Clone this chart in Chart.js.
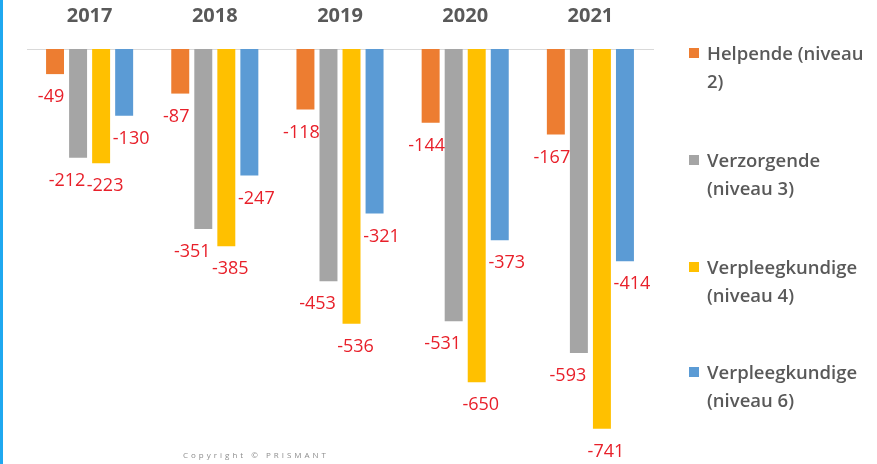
<!DOCTYPE html>
<html>
<head>
<meta charset="utf-8">
<script src="https://cdn.jsdelivr.net/npm/chart.js@4"></script>
<style>
  html, body { margin: 0; padding: 0; background: #fff; }
  #wrap { position: relative; width: 877px; height: 464px; overflow: hidden; border-left: 3px solid #1fa8f0; box-sizing: border-box; }
  #chart { position: absolute; left: -3px; top: 0; }
  .legend { position: absolute; left: 686px; font-family: 'Open Sans', sans-serif; font-weight: 600; font-size: 18.5px; line-height: 28px; color: #595959; }
  .legend .item { position: absolute; left: 0; width: 200px; }
  .legend .box { position: absolute; left: 0; top: 9px; width: 10px; height: 10px; }
  .legend .txt { margin-left: 18px; }
  #copy { position: absolute; left: 180px; top: 449px; font-family: 'Open Sans', sans-serif; font-size: 8px; letter-spacing: 3px; color: #8c8c8c; }
</style>
</head>
<body>
<div id="wrap">
  <canvas id="chart" width="877" height="464"></canvas>
  <div class="legend" id="legend"></div>
  <div id="copy">Copyright © PRISMANT</div>
</div>
<script>
const years = ['2017', '2018', '2019', '2020', '2021'];
const helpende = [-49, -87, -118, -144, -167];
const verzorgende = [-212, -351, -453, -531, -593];
const verpleeg4 = [-223, -385, -536, -650, -741];
const verpleeg6 = [-130, -247, -321, -373, -414];
const seriesNames = [['Helpende (niveau', '2)'], ['Verzorgende', '(niveau 3)'], ['Verpleegkundige', '(niveau 4)'], ['Verpleegkundige', '(niveau 6)']];
const colors = ['#ED7D31', '#A5A5A5', '#FFC000', '#5B9BD5'];

// label nudges like the hand-placed Excel labels
const labelShift = [-4, -11, 4, 7];

const valueLabels = {
    id: 'valueLabels',
    afterDatasetsDraw(chart) {
        const ctx = chart.ctx;
        ctx.save();
        ctx.font = '18px "Open Sans", sans-serif';
        ctx.fillStyle = '#E8202A';
        ctx.textAlign = 'center';
        ctx.textBaseline = 'middle';
        chart.data.datasets.forEach((ds, i) => {
            chart.getDatasetMeta(i).data.forEach((bar, j) => {
                ctx.fillText(ds.data[j], bar.x + labelShift[i], bar.y + 23);
            });
        });
        ctx.restore();
    }
};

const chart = new Chart(document.getElementById('chart'), {
    type: 'bar',
    data: {
        labels: years,
        datasets: [helpende, verzorgende, verpleeg4, verpleeg6].map((d, i) => ({
            label: seriesNames[i].join(' '),
            data: d,
            backgroundColor: colors[i],
            categoryPercentage: 0.736,
            barPercentage: 0.78
        }))
    },
    options: {
        responsive: false,
        animation: false,
        layout: { padding: { left: 27, right: 224, top: -17, bottom: 5 } },
        plugins: { legend: { display: false }, tooltip: { enabled: false } },
        scales: {
            x: {
                position: 'top',
                grid: { display: false, drawTicks: false },
                border: { display: true, color: '#d9d9d9', width: 1 },
                ticks: { color: '#595959', padding: 21, font: { family: 'Open Sans', size: 20, weight: 'bold' } }
            },
            y: { display: false, min: -800, max: 0 }
        }
    },
    plugins: [valueLabels]
});

const legendTops = [39, 146, 253, 358];
document.getElementById('legend').innerHTML = seriesNames.map((n, i) => `
    <div class="item" style="top:${legendTops[i]}px">
        <div class="box" style="background:${colors[i]}"></div>
        <div class="txt">${n[0]}<br>${n[1]}</div>
    </div>`).join('');
</script>
</body>
</html>
